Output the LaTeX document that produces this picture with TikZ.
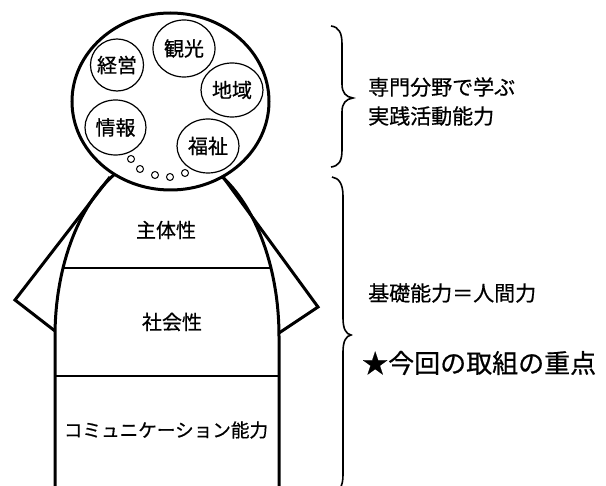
\documentclass[tikz,border=0pt]{standalone}
\usepackage{fontspec}
\setmainfont{Noto Sans CJK JP}[FakeBold=0.6]
\usetikzlibrary{shapes.geometric}
\begin{document}
\begin{tikzpicture}[x=1pt,y=-1pt,
  outline/.style={line width=3pt,line join=miter},
  divider/.style={line width=1.5pt},
  topic/.style={draw,line width=1.2pt,fill=white},
  dot/.style={draw,line width=1pt,fill=white},
  brace/.style={line width=1.6pt},
  lbl/.style={inner sep=0pt,font=\fontsize{20}{22}\selectfont},
  side/.style={inner sep=0pt,anchor=west,font=\fontsize{21}{24}\selectfont}]
\useasboundingbox (0,0) rectangle (606,486);
\clip (0,0) rectangle (606,486);
% body
\draw[outline] (55,500) -- plot[domain=180:0,samples=90] ({167+112*cos(\x)},{336-183*sin(\x)}) -- (279,500);
% arms
\coordinate (lj) at (110,177);
\coordinate (lt) at (15,300);
\coordinate (lb) at (55,331);
\coordinate (rj) at (223,177);
\coordinate (rt) at (318,307);
\coordinate (rb) at (279,333);
\draw[outline] (lj) -- (lt) -- (lb);
\draw[outline] (rj) -- (rt) -- (rb);
% dividers
\coordinate (d1l) at (63,268);
\coordinate (d1r) at (271,268);
\coordinate (d2l) at (55,376);
\coordinate (d2r) at (279,376);
\draw[divider] (d1l) -- (d1r);
\draw[divider] (d2l) -- (d2r);
% head
\draw[outline,fill=white] (170.5,101.5) ellipse [x radius=98.5, y radius=88.5];
% topics
\node[topic,ellipse,minimum width=53pt,minimum height=52pt,inner sep=0pt] (keiei) at (117,65) {};
\node[topic,ellipse,minimum width=62pt,minimum height=57pt,inner sep=0pt] (kanko) at (184,48.5) {};
\node[topic,ellipse,minimum width=62pt,minimum height=54pt,inner sep=0pt] (chiiki) at (232,90) {};
\node[topic,ellipse,minimum width=61pt,minimum height=55pt,inner sep=0pt] (joho) at (115.5,127.5) {};
\node[topic,ellipse,minimum width=62pt,minimum height=54pt,inner sep=0pt] (fukushi) at (208,146) {};
\node[lbl] at (keiei) {経営};
\node[lbl] at (kanko) {観光};
\node[lbl] at (chiiki) {地域};
\node[lbl] at (joho) {情報};
\node[lbl] at (fukushi) {福祉};
% small dots
\node[dot,circle,minimum size=7pt,inner sep=0pt] (s1) at (131,159) {};
\node[dot,circle,minimum size=7pt,inner sep=0pt] (s2) at (140,169) {};
\node[dot,circle,minimum size=7pt,inner sep=0pt] (s3) at (155,175) {};
\node[dot,circle,minimum size=7pt,inner sep=0pt] (s4) at (170,177) {};
\node[dot,circle,minimum size=7pt,inner sep=0pt] (s5) at (185,173) {};
% body labels
\node[lbl] (shutai) at (166,230) {主体性};
\node[lbl] (shakai) at (172,322) {社会性};
\node[lbl,font=\fontsize{18.6}{20}\selectfont] (comm) at (166,430) {コミュニケーション能力};
% braces
\draw[brace] (331,26) .. controls (339,27) and (342,33) .. (342,44) -- (342,84) .. controls (342,93) and (346,97) .. (353,98) .. controls (346,99) and (342,103) .. (342,112) -- (342,150) .. controls (342,161) and (339,166) .. (331,167);
\draw[brace] (332,177) .. controls (339,178) and (343,184) .. (343,196) -- (343,318) .. controls (343,329) and (346,334) .. (351,335) .. controls (346,336) and (343,341) .. (343,352) -- (343,475) .. controls (343,487) and (339,492) .. (332,493);
% side texts
\node[side] (t1) at (368,87) {専門分野で学ぶ};
\node[side] (t2) at (368,116) {実践活動能力};
\node[side] (t3) at (368,293) {基礎能力＝人間力};
\node[side,font=\fontsize{26}{28}\selectfont] (t4) at (362,363) {★今回の取組の重点};
\end{tikzpicture}
\end{document}
